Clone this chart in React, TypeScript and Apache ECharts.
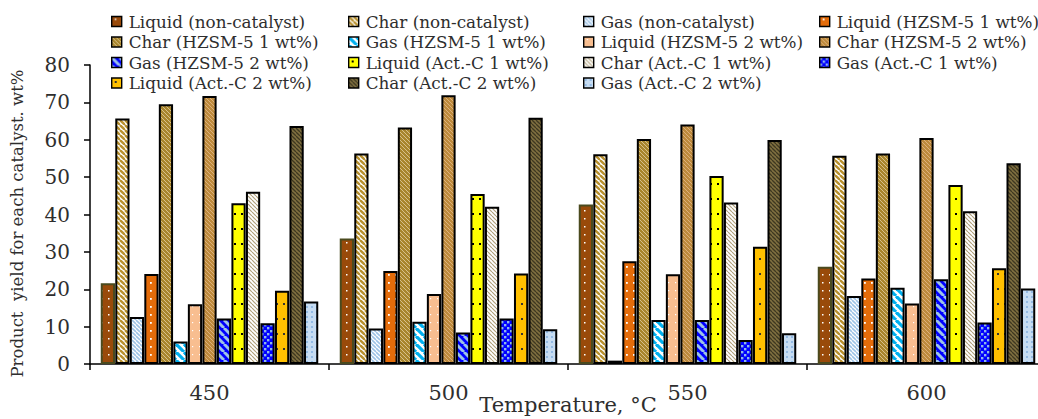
import { useEffect, useRef } from "react";
import * as echarts from "echarts";

const categories = ["450", "500", "550", "600"];

const seriesNames = [
  "Liquid (non-catalyst)",
  "Char (non-catalyst)",
  "Gas (non-catalyst)",
  "Liquid (HZSM-5 1 wt%)",
  "Char (HZSM-5 1 wt%)",
  "Gas (HZSM-5 1 wt%)",
  "Liquid (HZSM-5 2 wt%)",
  "Char (HZSM-5 2 wt%)",
  "Gas (HZSM-5 2 wt%)",
  "Liquid (Act.-C 1 wt%)",
  "Char (Act.-C 1 wt%)",
  "Gas (Act.-C 1 wt%)",
  "Liquid (Act.-C 2 wt%)",
  "Char (Act.-C 2 wt%)",
  "Gas (Act.-C 2 wt%)",
];

const liquidNonCatalyst = [21.6, 33.6, 42.7, 26.0];
const charNonCatalyst = [65.7, 56.3, 56.1, 55.7];
const gasNonCatalyst = [12.6, 9.5, 0.9, 18.2];
const liquidHZSM1 = [24.1, 24.9, 27.5, 22.9];
const charHZSM1 = [69.5, 63.3, 60.2, 56.3];
const gasHZSM1 = [6.0, 11.3, 11.8, 20.4];
const liquidHZSM2 = [16.0, 18.7, 24.0, 16.2];
const charHZSM2 = [71.7, 71.9, 64.1, 60.5];
const gasHZSM2 = [12.2, 8.4, 11.8, 22.7];
const liquidAC1 = [43.0, 45.5, 50.3, 47.9];
const charAC1 = [46.1, 42.1, 43.2, 40.9];
const gasAC1 = [10.9, 12.2, 6.4, 11.1];
const liquidAC2 = [19.6, 24.2, 31.4, 25.6];
const charAC2 = [63.7, 65.9, 59.9, 53.7];
const gasAC2 = [16.7, 9.3, 8.2, 20.2];

const seriesValues = [
  liquidNonCatalyst, charNonCatalyst, gasNonCatalyst,
  liquidHZSM1, charHZSM1, gasHZSM1,
  liquidHZSM2, charHZSM2, gasHZSM2,
  liquidAC1, charAC1, gasAC1,
  liquidAC2, charAC2, gasAC2,
];

const yMin = 0;
const yMax = 80;
const yInterval = 10;

const legendColumns = [
  [0, 4, 8, 12],
  [1, 5, 9, 13],
  [2, 6, 10, 14],
  [3, 7, 11],
];
const legendLefts = [111, 348, 583, 819];

const FONT = "DejaVu Serif";
const TEXT = "#2e2e2e";

function tile(w: number, h: number, draw: (ctx: CanvasRenderingContext2D) => void) {
  const c = document.createElement("canvas");
  c.width = w;
  c.height = h;
  const ctx = c.getContext("2d")!;
  draw(ctx);
  return { image: c, repeat: "repeat" } as any;
}

function stripes(bg: string, fg: string, period: number, lw: number) {
  return tile(period, period, (ctx) => {
    ctx.fillStyle = bg;
    ctx.fillRect(0, 0, period, period);
    ctx.strokeStyle = fg;
    ctx.lineWidth = lw;
    for (const o of [-period, 0, period]) {
      ctx.beginPath();
      ctx.moveTo(o, 0);
      ctx.lineTo(o + period, period);
      ctx.stroke();
    }
  });
}

function dots(bg: string, fg: string, w: number, h: number, pts: number[][], s: number) {
  return tile(w, h, (ctx) => {
    ctx.fillStyle = bg;
    ctx.fillRect(0, 0, w, h);
    ctx.fillStyle = fg;
    for (const [x, y] of pts) ctx.fillRect(x, y, s, s);
  });
}

function makeFills() {
  return [
    dots("#994A0A", "#ffffff", 7, 8, [[3, 2]], 1.5),
    stripes("#ffffff", "#B8902E", 5, 2.4),
    stripes("#ffffff", "#9DC3E6", 4, 1.6),
    dots("#E46C0A", "#ffffff", 7, 8, [[3, 2]], 1.8),
    stripes("#A8852C", "#D8C08A", 4, 1.0),
    stripes("#ffffff", "#00B0F0", 8, 3.2),
    dots("#F8BE90", "#ffffff", 7, 8, [[3, 2]], 1.2),
    stripes("#BD8A3C", "#DDB07C", 4, 1.0),
    stripes("#0000FF", "#9DC3E6", 8, 3.0),
    dots("#FFFF00", "#000000", 7, 15, [[3, 3]], 2),
    stripes("#ffffff", "#B0A07A", 4, 1.2),
    dots("#0000FF", "#8DB8E8", 6, 6, [[0, 0], [3, 3]], 2.4),
    dots("#FFC000", "#333333", 7, 15, [[3, 3]], 2),
    stripes("#807040", "#3E3820", 4, 1.3),
    dots("#C6DCF2", "#93BAE4", 5, 5, [[1, 1]], 2),
  ];
}

export default function App() {
  const ref = useRef<HTMLDivElement>(null);

  useEffect(() => {
    if (!ref.current) return;
    const chart = echarts.init(ref.current, null, { renderer: "svg" });
    const fills = makeFills();

    const series = seriesNames.map((name, i) => ({
      name,
      type: "bar",
      data: seriesValues[i],
      barGap: "2%",
      barCategoryGap: "9%",
      itemStyle: {
        color: fills[i],
        borderColor: i === 0 ? "#4A4A1E" : "#000000",
        borderWidth: 2,
      },
    }));

    const legends = legendColumns.map((col, ci) => ({
      orient: "vertical",
      left: legendLefts[ci],
      top: 12.5,
      padding: 0,
      itemWidth: 10,
      itemHeight: 10,
      itemGap: 2.5,
      icon: "rect",
      data: col.map((k) => seriesNames[k]),
      itemStyle: { borderColor: "#000000", borderWidth: 1.4 },
      textStyle: {
        fontFamily: FONT,
        fontSize: 16.8,
        lineHeight: 18,
        color: TEXT,
        padding: [0, 0, 0, 2],
      },
      selectedMode: false,
    }));

    chart.setOption({
      animation: false,
      backgroundColor: "#ffffff",
      textStyle: { fontFamily: FONT },
      legend: legends,
      grid: {
        left: 90,
        right: 2,
        top: 65,
        bottom: 55,
        containLabel: false,
        outerBoundsMode: "none",
      },
      xAxis: {
        type: "category",
        data: categories,
        name: "Temperature, °C",
        nameLocation: "middle",
        nameGap: 30,
        nameMoveOverlap: false,
        nameTextStyle: { fontFamily: FONT, fontSize: 21, color: TEXT },
        axisLine: { lineStyle: { color: "#000000", width: 1.5 } },
        axisTick: { show: true, length: 6, lineStyle: { color: "#000000", width: 1.5 } },
        axisLabel: { fontFamily: FONT, fontSize: 21, color: TEXT, margin: 18 },
      },
      yAxis: {
        type: "value",
        min: yMin,
        max: yMax,
        interval: yInterval,
        name: "Product  yield for each catalyst. wt%",
        nameLocation: "middle",
        nameGap: 64,
        nameMoveOverlap: false,
        nameTextStyle: { fontFamily: FONT, fontSize: 16.5, color: TEXT, padding: [0, 18, 0, 0] },
        axisLine: { show: true, lineStyle: { color: "#000000", width: 1.5 } },
        axisTick: { show: true, length: 6, lineStyle: { color: "#000000", width: 1.5 } },
        splitLine: { show: false },
        axisLabel: { fontFamily: FONT, fontSize: 20, color: TEXT, margin: 20 },
      },
      series,
    });

    return () => chart.dispose();
  }, []);

  return (
    <div
      ref={ref}
      style={{ position: "fixed", left: 0, top: 0, width: 1048, height: 419 }}
    />
  );
}
